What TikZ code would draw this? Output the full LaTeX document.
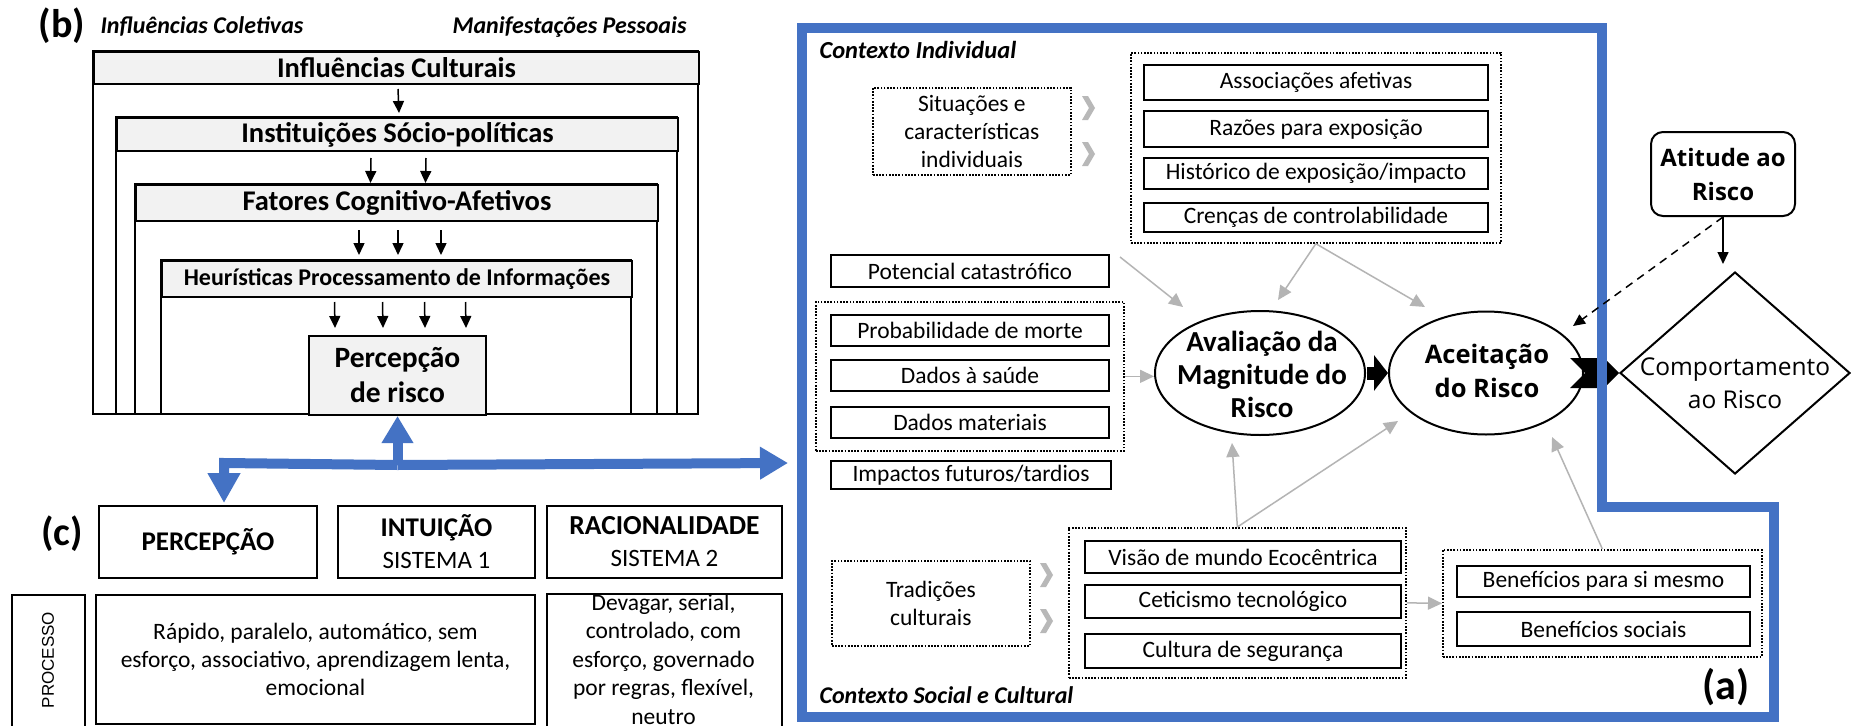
\documentclass[tikz,border=0pt]{standalone}
\usepackage{fontspec}
\setmainfont{Carlito}
\newfontfamily\arialf{Liberation Sans}
\newfontfamily\osans{Open Sans}
\usetikzlibrary{arrows.meta,shapes.geometric,calc}
\definecolor{frameblue}{HTML}{4472C4}
\definecolor{hdrgray}{HTML}{F2F2F2}
\definecolor{arrgray}{HTML}{B4B4B4}
\definecolor{chevgray}{HTML}{B8B8B8}
\newcommand\fsz[2]{\fontsize{#1}{#2}\selectfont}
\tikzset{
  box/.style={draw=black, line width=2pt, inner sep=0pt, anchor=north west, align=center, font=\fsz{23.5}{28}},
  dotbox/.style={draw=black, line width=1.7pt, dash pattern=on 1.7pt off 1.5pt, inner sep=0pt, anchor=north west, align=center, font=\fsz{23.5}{28}},
  hdr/.style={draw=black, line width=2pt, fill=hdrgray, inner sep=0pt, anchor=north west, font=\bfseries\fsz{28.5}{34}},
  boxline/.style={draw=black, line width=2pt},
  karr/.style={draw=black, line width=1.5pt, -{Triangle[length=12pt,width=11pt]}},
  garr/.style={draw=arrgray, line width=1.5pt, -{Triangle[length=14pt,width=13pt]}},
  barr/.style={draw=frameblue, line width=10pt},
  plab/.style={font=\bfseries\fsz{40}{44}},
  ilab/.style={font=\bfseries\itshape\fsz{24}{28}},
  oval/.style={ellipse, draw=black, line width=2pt, inner sep=0pt},
  grchev/.pic={\fill[chevgray] (0,-12) -- (6,-12) -- (13,0) -- (6,12) -- (0,12) -- (7,0) -- cycle;}
}
\begin{document}
\begin{tikzpicture}[x=1pt,y=-1pt]
\fill[white] (0,0) rectangle (1851,725);
\useasboundingbox (0,0) rectangle (1851,725);

% ---------------- panel (b)
\node[plab] (labb) at (62,26) {(b)};
\node[ilab, anchor=base west] (coll) at (97,34) {Influências Coletivas};
\node[ilab, anchor=base east] (pess) at (690,34) {Manifestações Pessoais};
\draw[boxline] (93,51) rectangle (698,414);
\node[hdr, minimum width=605pt, minimum height=32pt] (h1) at (93,51) {Influências Culturais};
\draw[boxline] (116,117) rectangle (677,414);
\node[hdr, minimum width=561pt, minimum height=33pt] (h2) at (116,117) {Instituições Sócio-políticas};
\draw[boxline] (135,184) rectangle (657,414);
\node[hdr, minimum width=522pt, minimum height=36pt] (h3) at (135,184) {Fatores Cognitivo-Afetivos};
\draw[boxline] (161,260) rectangle (631,414);
\node[hdr, minimum width=470pt, minimum height=36pt, font=\bfseries\fsz{24}{28}] (h4) at (161,260) {Heurísticas Processamento de Informações};
\node[hdr, minimum width=177pt, minimum height=79pt, align=center, font=\bfseries\fsz{29.5}{35}] (perc) at (308,335) {Percepção\\de risco};

\draw[karr] ([xshift=1.5pt,yshift=-4pt]h1.south) -- ([xshift=1.5pt,yshift=4pt]h2.north);
\foreach \d in {-26.5,28.5}
  \draw[karr] ([xshift=\d pt,yshift=-6pt]h2.south) -- ([xshift=\d pt,yshift=1pt]h3.north);
\foreach \d in {-38,1,44}
  \draw[karr] ([xshift=\d pt,yshift=-8pt]h3.south) -- ([xshift=\d pt,yshift=5pt]h4.north);
\foreach \d in {-62.5,-14.5,27.5,68.5}
  \draw[karr] ([xshift=\d pt,yshift=-4pt]h4.south) -- ([xshift=\d pt,yshift=7pt]perc.north);

% ---------------- panel (c)
\node[plab] (labc) at (62,534) {(c)};
\node[box, minimum width=218pt, minimum height=72pt, font=\bfseries\fsz{27}{32}] (cperc) at (98,505) {PERCEPÇÃO};
\node[box, minimum width=197pt, minimum height=72pt, font=\bfseries\fsz{27}{32}] (cint) at (337,505) {INTUIÇÃO\\{\mdseries\fsz{25}{32}SISTEMA 1}};
\node[box, minimum width=235pt, minimum height=72pt, font=\bfseries\fsz{27.5}{32}] (crac) at (546,505) {RACIONALIDADE\\{\mdseries\fsz{25}{32}SISTEMA 2}};
\node[box, minimum width=73pt, minimum height=140pt] (cproc) at (11,594) {};
\node[rotate=90, font=\arialf\fsz{17}{20}] (proct) at (48,660) {PROCESSO};
\node[box, minimum width=439pt, minimum height=129pt] (cmid) at (95,594) {};
\node[font=\fsz{23.5}{28}, align=center] (cmidt) at (cmid.center) {Rápido, paralelo, automático, sem\\esforço, associativo, aprendizagem lenta,\\emocional};
\node[box, minimum width=235pt, minimum height=140pt] (crt) at (546,593) {};
\node[font=\fsz{23.5}{28.5}, align=center] (crtt) at (663.5,659) {Devagar, serial,\\controlado, com\\esforço, governado\\por regras, flexível,\\neutro};

% blue connectors
\coordinate (jn) at ($(perc.south)+(0,49)$);
\coordinate (cn) at (224,463);
\coordinate (fw) at (788,463);
\draw[barr, -{Triangle[length=27pt,width=30pt]}] (jn) -- (perc.south);
\draw[barr, -{Triangle[length=28pt,width=31pt]}] (jn) -- (fw);
\draw[barr, line join=miter, -{Triangle[length=30pt,width=31pt]}] (jn) -- (cn) -- ([yshift=2pt]cn |- cperc.north);

% ---------------- panel (a)
\node[ilab, font=\bfseries\itshape\fsz{24.5}{28}, anchor=base west] (ctxi) at (816,59) {Contexto Individual};
\node[dotbox, minimum width=198pt, minimum height=87pt] (sit) at (872,87) {Situações e\\características\\individuais};
\pic at (1082,108) {grchev};
\pic at (1082,154) {grchev};
\node[dotbox, minimum width=370pt, minimum height=190pt] (topg) at (1130,52) {};
\node[box, minimum width=344pt, minimum height=35pt] (assoc) at (1143,64) {Associações afetivas};
\node[box, minimum width=344pt, minimum height=36pt] (raz) at (1143,110) {Razões para exposição};
\node[box, minimum width=344pt, minimum height=31pt] (hist) at (1143,157) {Histórico de exposição/impacto};
\node[box, minimum width=344pt, minimum height=29pt] (cren) at (1143,202) {Crenças de controlabilidade};

\node[box, minimum width=278pt, minimum height=32pt] (pot) at (830,254) {Potencial catastrófico};
\node[dotbox, minimum width=308pt, minimum height=149pt] (probg) at (815,301) {};
\node[box, minimum width=278pt, minimum height=31pt] (prob) at (830,314) {Probabilidade de morte};
\node[box, minimum width=278pt, minimum height=31pt] (saude) at (830,359) {Dados à saúde};
\node[box, minimum width=278pt, minimum height=31pt] (mat) at (830,406) {Dados materiais};
\node[box, minimum width=280pt, minimum height=28pt] (imp) at (830,460) {Impactos futuros/tardios};

\node[oval, minimum width=210pt, minimum height=124pt] (aval) at (1260,373) {};
\node[font=\bfseries\fsz{29}{33}, align=center] (avalt) at (1262,374) {Avaliação da\\Magnitude do\\Risco};
\node[oval, minimum width=194pt, minimum height=123pt] (acc) at (1486,373) {};
\node[font=\osans\bfseries\fsz{25.5}{34}, align=center] (acct) at (1487,371) {Aceitação\\do Risco};

\node[diamond, aspect=1.14, draw=black, line width=2pt, minimum width=230pt, minimum height=202pt, inner sep=0pt] (beh) at (1735,373) {};
\node[font=\osans\fsz{24.5}{33}, align=center] (beht) at (1735,383) {Comportamento\\ao Risco};
\node[draw=black, rounded corners=12pt, line width=2pt, minimum width=144pt, minimum height=84pt, font=\osans\bfseries\fsz{24}{34}, align=center] (att) at (1723,174) {Atitude ao\\Risco};

\node[ilab, anchor=base west] (ctxs) at (816,703) {Contexto Social e Cultural};
\node[font=\bfseries\fsz{42}{46}] (laba) at (1726,687) {(a)};
\node[dotbox, minimum width=198pt, minimum height=85pt] (trad) at (831,560) {Tradições\\culturais};
\pic at (1040,575) {grchev};
\pic at (1040,621) {grchev};
\node[dotbox, minimum width=337pt, minimum height=150pt] (midg) at (1068,527) {};
\node[box, minimum width=316pt, minimum height=32pt] (vis) at (1084,540) {Visão de mundo Ecocêntrica};
\node[box, minimum width=316pt, minimum height=33pt] (cet) at (1084,584) {Ceticismo tecnológico};
\node[box, minimum width=316pt, minimum height=34pt] (cult) at (1084,633) {Cultura de segurança};
\node[dotbox, minimum width=319pt, minimum height=107pt] (beng) at (1442,549) {};
\node[box, minimum width=293pt, minimum height=31pt] (bsi) at (1456,565) {Benefícios para si mesmo};
\node[box, minimum width=293pt, minimum height=34pt] (bsoc) at (1456,611) {Benefícios sociais};

% gray arrows
\coordinate (t1) at (1183,307);
\coordinate (t2) at (1278,300);
\coordinate (t3) at (1425,307);
\coordinate (t5) at (1232,443);
\coordinate (t6) at (1398,421);
\coordinate (t7) at (1552,437);
\draw[garr] ([xshift=10pt,yshift=-3pt]pot.north east) -- (t1);
\draw[garr] (topg.south) -- (t2);
\draw[garr] (topg.south) -- (t3);
\draw[garr] (probg.east) -- (probg.east -| aval.west);
\draw[garr] (midg.north) -- (t5);
\draw[garr] (midg.north) -- (t6);
\draw[garr] (beng.north) -- (t7);
\draw[garr] (midg.east) -- (beng.west);

% black arrows
\draw[line width=13pt, -{Triangle[length=14pt,width=35pt]}] ([xshift=1pt]aval.east) -- (acc.west);
\fill[black] ($(beh.west)+(-49,-15)$) -- ($(beh.west)+(-15,-15)$) -- (beh.west) -- ($(beh.west)+(-15,15)$) -- ($(beh.west)+(-49,15)$) -- ($(beh.west)+(-34,0)$) -- cycle;

% blue frame
\draw[frameblue, line width=10pt, line join=miter] (802,28) -- (1602,28) -- (1602,507) -- (1774,507) -- (1774,717) -- (802,717) -- cycle;

\coordinate (dtip) at (1573,326);
\draw[karr] (att.south) -- ($(att.south)+(0,47)$);
\draw[karr, dash pattern=on 8pt off 6pt] (att.south) -- (dtip);
\end{tikzpicture}
\end{document}
